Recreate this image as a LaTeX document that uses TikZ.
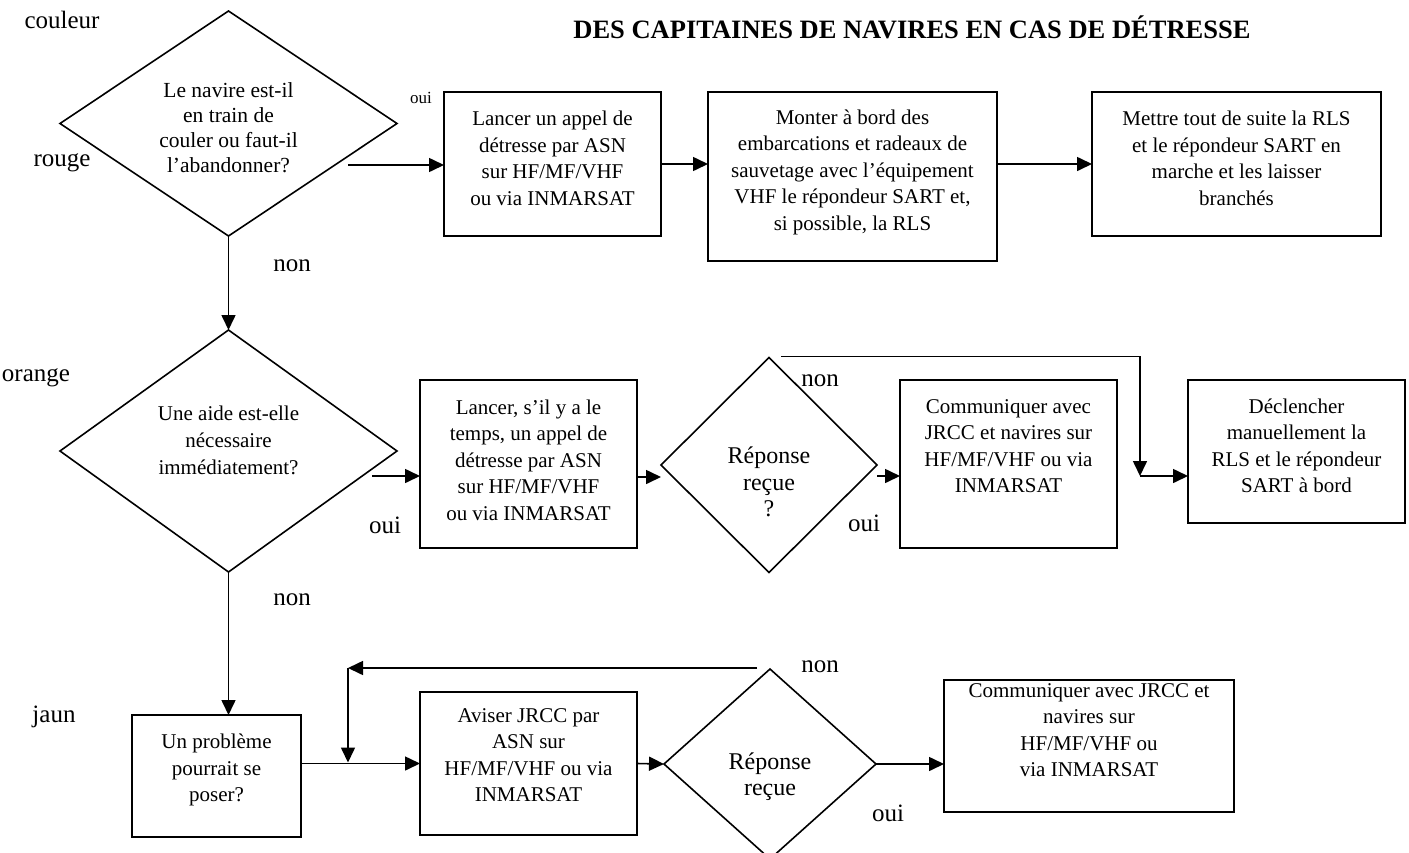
\documentclass[tikz,border=0pt]{standalone}
\usepackage{fontspec}
\setmainfont{Liberation Serif}
\usetikzlibrary{shapes.geometric,arrows.meta,calc}
\begin{document}
\begin{tikzpicture}[x=1pt,y=-1pt,
  boxnode/.style={draw,line width=1.6pt,inner sep=0pt,outer sep=0pt},
  decision/.style={diamond,draw,line width=1.6pt,inner sep=0pt,outer sep=0pt},
  txt/.style={align=center,font=\fontsize{21}{26.5}\selectfont,inner sep=0pt},
  qtxt/.style={align=center,font=\fontsize{21.5}{25}\selectfont,inner sep=0pt},
  rtxt/.style={align=center,font=\fontsize{24}{26.5}\selectfont,inner sep=0pt},
  side/.style={font=\fontsize{25}{30}\selectfont,inner sep=0pt},
  arr/.style={line width=1.6pt,-{Triangle[length=15pt,width=14pt]}}]
\clip (0,0) rectangle (1409,852);
\fill[white] (0,0) rectangle (1409,852);

% heading
\node[font=\bfseries\fontsize{26.5}{30}\selectfont] (title) at (912,27) {DES CAPITAINES DE NAVIRES EN CAS DE DÉTRESSE};

% colour labels on the left
\node[side] (lcoul) at (62,20) {couleur};
\node[side] (lrouge) at (62,163) {rouge};
\node[side] (lorange) at (36,378) {orange};
\node[side] (ljaun) at (54,717) {jaun};

% red row
\node[decision,minimum width=337,minimum height=225,
  label={[qtxt,yshift=-4pt]center:{Le navire est-il\\en train de\\couler ou faut-il\\l’abandonner?}}] (d1) at (228.5,123.5) {};
\node[boxnode,minimum width=217,minimum height=144,
  label={[txt,yshift=5.5pt]center:{Lancer un appel de\\détresse par ASN\\sur HF/MF/VHF\\ou via INMARSAT}}] (b1) at (552.5,164) {};
\node[boxnode,minimum width=289,minimum height=169,
  label={[txt,yshift=4.5pt]center:{Monter à bord des\\embarcations et radeaux de\\sauvetage avec l’équipement\\VHF le répondeur SART et,\\si possible, la RLS}}] (b2) at (852.5,176.5) {};
\node[boxnode,minimum width=289,minimum height=144,
  label={[txt,yshift=5.5pt]center:{Mettre tout de suite la RLS\\et le répondeur SART en\\marche et les laisser\\branchés}}] (b3) at (1236.5,164) {};

% orange row
\node[decision,minimum width=337,minimum height=242,
  label={[align=center,font=\fontsize{21}{27}\selectfont,inner sep=0pt,yshift=11pt]center:{Une aide est-elle\\nécessaire\\immédiatement?}}] (d2) at (228.5,451) {};
\node[boxnode,minimum width=217,minimum height=168,
  label={[txt,yshift=4pt]center:{Lancer, s’il y a le\\temps, un appel de\\détresse par ASN\\sur HF/MF/VHF\\ou via INMARSAT}}] (b4) at (528.5,464) {};
\node[decision,minimum width=216,minimum height=215,
  label={[rtxt,yshift=-17pt]center:{Réponse\\reçue\\?}}] (d3) at (769,465) {};
\node[boxnode,minimum width=217,minimum height=168,
  label={[txt,yshift=18pt]center:{Communiquer avec\\JRCC et navires sur\\HF/MF/VHF ou via\\INMARSAT}}] (b5) at (1008.5,464) {};
\node[boxnode,minimum width=217,minimum height=143,
  label={[txt,yshift=5.5pt]center:{Déclencher\\manuellement la\\RLS et le répondeur\\SART à bord}}] (b6) at (1296.5,451.5) {};

% yellow row
\node[boxnode,minimum width=169,minimum height=122,
  label={[txt,yshift=6pt]center:{Un problème\\pourrait se\\poser?}}] (b7) at (216.5,776) {};
\node[boxnode,minimum width=217,minimum height=143,
  label={[txt,yshift=8.5pt]center:{Aviser JRCC par\\ASN sur\\HF/MF/VHF ou via\\INMARSAT}}] (b8) at (528.5,763.5) {};
\node[decision,minimum width=212,minimum height=190,
  label={[rtxt,yshift=-12.5pt]center:{Réponse\\reçue}}] (d5) at (770,764) {};
\node[boxnode,minimum width=290,minimum height=132,
  label={[txt,yshift=16pt]center:{Communiquer avec JRCC et\\navires sur\\HF/MF/VHF ou\\via INMARSAT}}] (b9) at (1089,746) {};

% branch labels
\node[font=\fontsize{17}{20}\selectfont,inner sep=0pt] (oui1) at (421,98) {oui};
\node[side] (non1) at (292,266) {non};
\node[side] (non2) at (292,600) {non};
\node[side] (oui2) at (385,525) {oui};
\node[side] (non3) at (820,381) {non};
\node[side] (oui3) at (864,523) {oui};
\node[side] (non5) at (820,667) {non};
\node[side] (oui5) at (888,813) {oui};

% connectors, red row
\draw[arr] ($(b1.west)+(-96,1)$) -- ($(b1.west)+(0,1)$);
\draw[arr] (b1.east) -- (b1.east -| b2.west);
\draw[arr] (b2.east |- b3.west) -- (b3.west);
\draw[arr] (d1.south) -- (d2.north);

% connectors, orange row
\draw[arr] ($(b4.west)+(-48,12)$) -- ($(b4.west)+(0,12)$);
\draw[arr] ($(b4.east)+(0,13)$) -- ($(d3.west)+(0,12)$);
\draw[arr] ($(d3.east)+(0,11)$) -- ($(b5.west)+(0,12)$);
\coordinate (j1) at ($(b6.west)+(-48,24.5)$);
\draw[arr] ($(d3.north)+(12,-1)$) -| (j1);
\draw[arr] (j1) -- (j1 -| b6.west);
\draw[arr] (d2.south) -- (d2.south |- b7.north);

% connectors, yellow row
\draw[arr] (b7.east |- b8.west) -- (b8.west);
\coordinate (j3) at ($(b8.west)+(-72,-95.5)$);
\draw[arr] ($(d5.north)+(-13,-1)$) -- (j3);
\draw[arr] (j3) -- ($(j3 |- b8.west)+(0,-1)$);
\draw[arr] (b8.east) -- (d5.west);
\draw[arr] (d5.east) -- (d5.east -| b9.west);
\end{tikzpicture}
\end{document}
